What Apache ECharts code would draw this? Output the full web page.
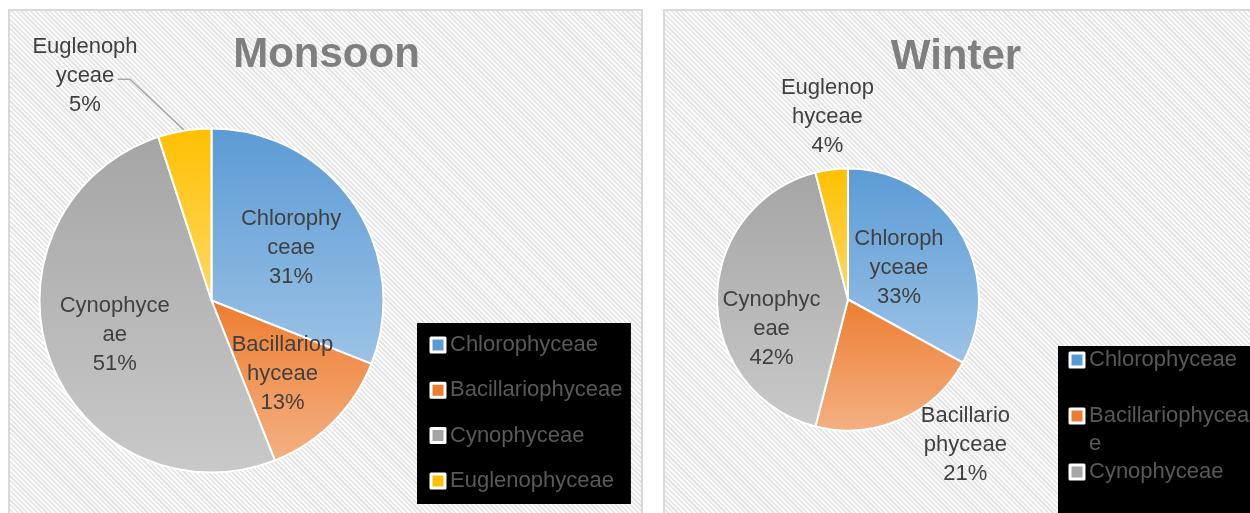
<!DOCTYPE html>
<html><head><meta charset="utf-8">
<script src="https://cdn.jsdelivr.net/npm/echarts@6/dist/echarts.min.js"></script>
<style>
html,body{margin:0;padding:0;background:#fff;width:1250px;height:513px;overflow:hidden;}
.panel{position:absolute;box-sizing:border-box;border:2px solid #d9d9d9;
 background:repeating-linear-gradient(45deg,#fbfbfb 0px,#fbfbfb 1.8px,#e5e5e5 1.8px,#e5e5e5 3.4px);}
#p1{left:8px;top:9px;width:635px;height:540px;}
#p2{left:663px;top:9px;width:620px;height:540px;}
#chart{position:absolute;left:0;top:0;width:1250px;height:513px;}
</style></head><body>
<div class="panel" id="p1"></div><div class="panel" id="p2"></div>
<div id="chart"></div>
<script>
// ---- data ----
const categories = ['Chlorophyceae', 'Bacillariophyceae', 'Cynophyceae', 'Euglenophyceae'];
const titles = ['Monsoon', 'Winter'];
const monsoonValues = [31, 13, 51, 5];
const winterValues = [33, 21, 42, 4];
const monsoonLabels = ['Chlorophy\nceae', 'Bacillariop\nhyceae', 'Cynophyce\nae', 'Euglenoph\nyceae'];
const winterLabels = ['Chloroph\nyceae', 'Bacillario\nphyceae', 'Cynophyc\neae', 'Euglenop\nhyceae'];

// ---- styles ----
const FONT = '"Liberation Sans", Arial, sans-serif';
const gradStops = [['#5B9BD5', '#9DC3E6'], ['#ED7D31', '#F4B183'], ['#A5A5A5', '#C9C9C9'], ['#FFC000', '#FFD966']];
const flatColors = ['#5B9BD5', '#ED7D31', '#A5A5A5', '#FFC000'];
function grad(i) {
  return new echarts.graphic.LinearGradient(0, 0, 0, 1, [
    { offset: 0, color: gradStops[i][0] }, { offset: 1, color: gradStops[i][1] }]);
}
const tStyle = { fontSize: 22, lineHeight: 29, color: '#404040', fontFamily: FONT, align: 'center' };
function makeFormatter(lines) {
  return p => (lines[p.dataIndex] + '\n' + Math.round(p.percent) + '%')
    .split('\n').map(s => '{t|' + s + '}').join('\n');
}
function nudge(table, linePts) {
  return p => {
    const out = {};
    const n = table[p.dataIndex];
    if (n) { out.dx = n[0]; out.dy = n[1]; }
    const lp = linePts && linePts[p.dataIndex];
    if (lp && p.labelLinePoints) {
      const pts = p.labelLinePoints;
      const end = pts[pts.length - 1];
      out.labelLinePoints = [pts[0],
        [end[0] + lp[0], end[1] + lp[1]],
        [end[0] + lp[2], end[1] + lp[1]]];
    }
    return out;
  };
}
function pieSeries(values, lines, center, radius, nudges, linePts, overrides) {
  return {
    type: 'pie', center: center, radius: radius, startAngle: 90, clockwise: true,
    avoidLabelOverlap: false, animation: false,
    itemStyle: { borderColor: '#ffffff', borderWidth: 2 },
    label: { position: 'inside', formatter: makeFormatter(lines), rich: { t: tStyle } },
    labelLine: { show: false },
    labelLayout: nudge(nudges, linePts),
    emphasis: { disabled: true },
    data: categories.map((name, i) => Object.assign(
      { name: name, value: values[i], itemStyle: { color: grad(i) } }, overrides[i] || {}))
  };
}

const monsoon = pieSeries(monsoonValues, monsoonLabels, [211.5, 300.5], 172,
  { 0: [6, -3], 1: [8, 11], 2: [-13, 4] },
  { 3: [8, 3, -4] },
  { 3: {
      label: { position: 'outside', distanceToLabelLine: 5, rich: { t: Object.assign({}, tStyle, { width: 64 }) } },
      labelLine: { show: true, length: 55, length2: 54, lineStyle: { color: '#a6a6a6', width: 1.5 } }
  } });
const winter = pieSeries(winterValues, winterLabels, [848, 299.5], 131,
  { 0: [-8, 3.5], 2: [-8, 29.5] },
  null,
  { 1: {
      label: { position: 'outside', distanceToLabelLine: 5 },
      labelLine: { show: false, length: 27, length2: 5 }
    },
    3: {
      label: { position: 'outside', distanceToLabelLine: -49 },
      labelLine: { show: false, length: 53.5, length2: 0 }
    } });

// legend entries that do not fit the narrow right legend wrap; their first line sits by the marker
const measureCtx = document.createElement('canvas').getContext('2d');
measureCtx.font = '22px ' + FONT;
const RIGHT_TEXT_W = 162;
function rightLegendFormatter(name) {
  return measureCtx.measureText(name).width > RIGHT_TEXT_W ? '\n' + name : name;
}

const legendText = { fontSize: 22, color: '#595959', fontFamily: FONT };
const legendCommon = {
  orient: 'vertical', icon: 'rect', itemWidth: 14, itemHeight: 14, selectedMode: false,
  backgroundColor: '#000000', borderRadius: 0,
  itemStyle: { borderColor: '#ffffff', borderWidth: 3 }
};
const chart = echarts.init(document.getElementById('chart'), null, { renderer: 'canvas' });
chart.setOption({
  backgroundColor: 'transparent',
  animation: false,
  title: titles.map((t, i) => ({
    text: t, left: i === 0 ? 326.5 : 956, top: i === 0 ? 55 : 57, padding: 0,
    textAlign: 'center', textVerticalAlign: 'middle',
    textStyle: { fontSize: 42, fontWeight: 'bold', color: '#7f7f7f', fontFamily: FONT }
  })),
  legend: [
    Object.assign({}, legendCommon, {
      left: 417, top: 323, padding: [10, 8.5, 11, 12.5], itemGap: 21.3,
      textStyle: Object.assign({}, legendText, { lineHeight: 24 }),
      data: categories.map((c, i) => ({ name: c, itemStyle: { color: flatColors[i] } }))
    }),
    Object.assign({}, legendCommon, {
      left: 1058, top: 346, height: 400, padding: [0, 0, 30, 10.5], itemGap: 0,
      formatter: rightLegendFormatter,
      textStyle: Object.assign({}, legendText, { lineHeight: 28, width: RIGHT_TEXT_W, overflow: 'breakAll' }),
      data: categories.map((c, i) => {
        const d = { name: c, itemStyle: { color: flatColors[i] } };
        if (i === 3) d.textStyle = { padding: [60, 0, 0, 0] };
        return d;
      })
    })
  ],
  series: [monsoon, winter]
});
</script>
</body></html>
